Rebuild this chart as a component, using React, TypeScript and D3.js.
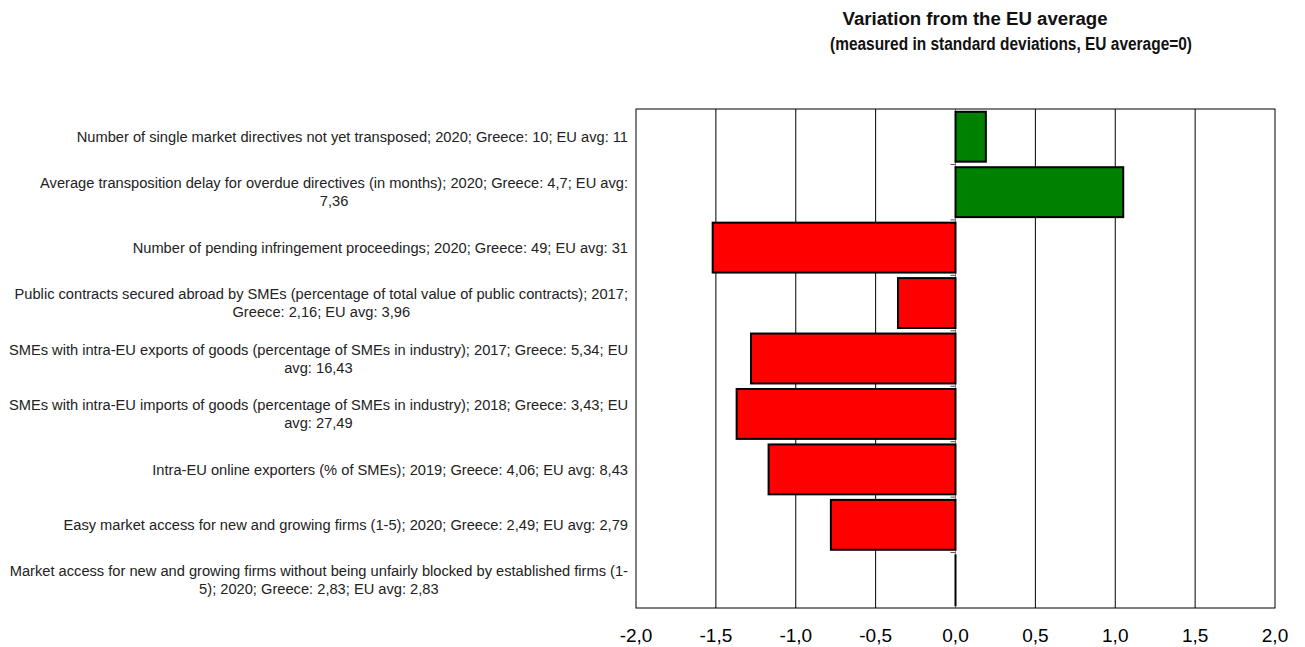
import * as d3 from "d3";

const labels: string[][] = [
  ["Number of single market directives not yet transposed; 2020; Greece: 10; EU avg: 11"],
  ["Average transposition delay for overdue directives (in months); 2020; Greece: 4,7; EU avg:", "7,36"],
  ["Number of pending infringement proceedings; 2020; Greece: 49; EU avg: 31"],
  ["Public contracts secured abroad by SMEs (percentage of total value of public contracts); 2017;", "Greece: 2,16; EU avg: 3,96"],
  ["SMEs with intra-EU exports of goods (percentage of SMEs in industry); 2017; Greece: 5,34; EU", "avg: 16,43"],
  ["SMEs with intra-EU imports of goods (percentage of SMEs in industry); 2018; Greece: 3,43; EU", "avg: 27,49"],
  ["Intra-EU online exporters (% of SMEs); 2019; Greece: 4,06; EU avg: 8,43"],
  ["Easy market access for new and growing firms (1-5); 2020; Greece: 2,49; EU avg: 2,79"],
  ["Market access for new and growing firms without being unfairly blocked by established firms (1-", "5); 2020; Greece: 2,83; EU avg: 2,83"],
];
const values = [0.19, 1.05, -1.52, -0.36, -1.28, -1.37, -1.17, -0.78, 0];
const ticks = [-2, -1.5, -1, -0.5, 0, 0.5, 1, 1.5, 2];
const title = ["Variation from the EU average", "(measured in standard deviations, EU average=0)"];

const W = 1305;
const H = 647;
const FONT = "'Liberation Sans', Arial, sans-serif";
const LABEL_SIZE = 14.66;
const plot = { left: 636, right: 1275, top: 109, bottom: 608 };

let ctx: CanvasRenderingContext2D | null = null;
const measure = (s: string, font: string) => {
  if (!ctx) ctx = document.createElement("canvas").getContext("2d");
  if (!ctx) return s.length * 6.8;
  ctx.font = font;
  return ctx.measureText(s).width;
};

const App = () => {
  const x = d3.scaleLinear().domain([-2, 2]).range([plot.left, plot.right]);
  const y = d3
    .scaleBand<number>()
    .domain(d3.range(values.length))
    .range([plot.top, plot.bottom])
    .paddingInner(0.1)
    .paddingOuter(0.05);
  const step = y.step();
  const labelRight = 628;
  const lineH = 18;

  return (
    <svg
      width={W}
      height={H}
      style={{ position: "absolute", left: 0, top: 0, background: "#fff" }}
      fontFamily={FONT}
    >
      {/* title */}
      <text
        x={975}
        y={25}
        textAnchor="middle"
        fontSize={18}
        fontWeight="bold"
        fill="#111"
        textLength={265}
        lengthAdjust="spacingAndGlyphs"
      >
        {title[0]}
      </text>
      <text
        x={1011}
        y={50}
        textAnchor="middle"
        fontSize={18}
        fontWeight="bold"
        fill="#111"
        textLength={362}
        lengthAdjust="spacingAndGlyphs"
      >
        {title[1]}
      </text>

      {/* gridlines */}
      {ticks.slice(1, -1).map((t) => (
        <line
          key={t}
          x1={x(t)}
          x2={x(t)}
          y1={plot.top}
          y2={plot.bottom}
          stroke={t === 0 ? "#888" : "#000"}
          strokeWidth={1}
        />
      ))}

      {/* bars (a zero value still shows as its outline, like the original) */}
      {values.map((v, i) => (
        <rect
          key={i}
          x={Math.min(x(0), x(v))}
          y={y(i)}
          width={Math.max(Math.abs(x(v) - x(0)), 0.01)}
          height={y.bandwidth()}
          fill={v > 0 ? "#008000" : "#ff0000"}
          stroke="#000"
          strokeWidth={2}
        />
      ))}

      {/* category ticks on zero line */}
      {d3.range(1, values.length).map((i) => (
        <line
          key={i}
          x1={x(0) - 5}
          x2={x(0)}
          y1={plot.top + i * step}
          y2={plot.top + i * step}
          stroke="#555"
          strokeWidth={1}
        />
      ))}

      {/* frame */}
      <rect
        x={plot.left}
        y={plot.top}
        width={plot.right - plot.left}
        height={plot.bottom - plot.top}
        fill="none"
        stroke="#000"
        strokeWidth={1}
      />

      {/* x tick labels */}
      {ticks.map((t) => (
        <text key={t} x={x(t)} y={642} textAnchor="middle" fontSize={19} fill="#000">
          {d3.format(".1f")(t).replace(".", ",").replace("−", "-")}
        </text>
      ))}

      {/* category labels */}
      {labels.map((lines, i) => {
        const font = `${LABEL_SIZE}px ${FONT}`;
        const bw = Math.max(...lines.map((l) => measure(l, font)));
        const cx = labelRight - bw / 2;
        const cy = (y(i) ?? 0) + y.bandwidth() / 2;
        const y0 = cy - ((lines.length - 1) * lineH) / 2;
        return (
          <text key={i} textAnchor="middle" fontSize={LABEL_SIZE} fill="#222">
            {lines.map((l, j) => (
              <tspan key={j} x={cx} y={y0 + j * lineH} dy="0.35em">
                {l}
              </tspan>
            ))}
          </text>
        );
      })}
    </svg>
  );
};

export default App;
